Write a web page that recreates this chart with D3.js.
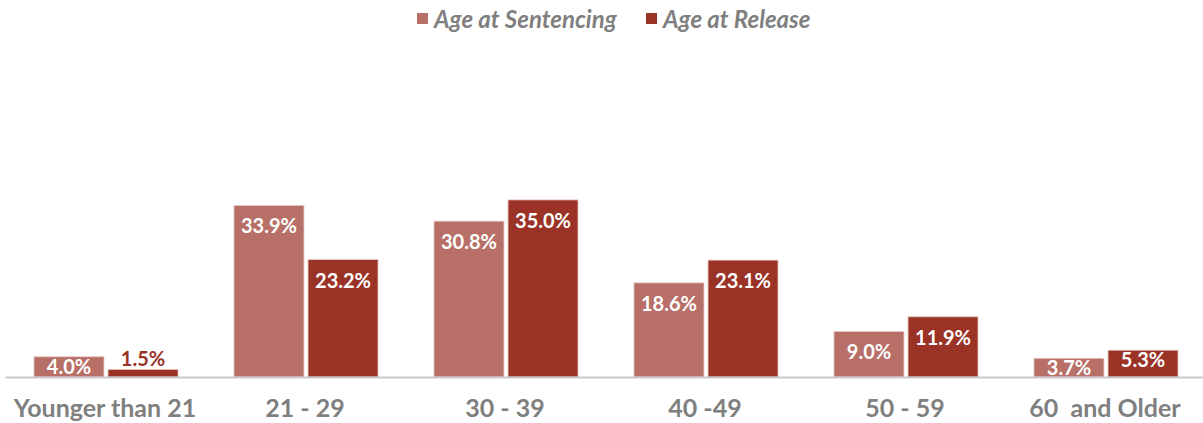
<!DOCTYPE html>
<html>
<head>
<meta charset="utf-8">
<script src="https://cdn.jsdelivr.net/npm/d3@7"></script>
<style>
  body { margin: 0; background: #fff; }
  svg text { font-family: Lato, "Open Sans", sans-serif; }
</style>
</head>
<body>
<svg id="chart" width="1203" height="423"></svg>
<script>
// data
var categories = ["Younger than 21", "21 - 29", "30 - 39", "40 -49", "50 - 59", "60  and Older"];
var seriesNames = ["Age at Sentencing", "Age at Release"];
var sentencing = [4.0, 33.9, 30.8, 18.6, 9.0, 3.7];
var release = [1.5, 23.2, 35.0, 23.1, 11.9, 5.3];
var colors = ["#b86f67", "#9a3226"];

var svg = d3.select("#chart"),
  margin = {top: 40, right: 0, bottom: 46, left: 5},
  width = 1200,
  height = 423 - margin.top - margin.bottom;

var g = svg.append("g").attr("transform", "translate(" + margin.left + "," + margin.top + ")");

var x0 = d3.scaleBand().domain(categories).range([0, width]).paddingInner(0).paddingOuter(0);
var x1 = d3.scaleBand().domain(seriesNames).range([29, 173]).paddingInner(0.055);
var y = d3.scaleLinear().domain([0, 40]).range([height, height - 202.4]);

var rows = categories.map(function(c, i) {
  return {cat: c, vals: [
    {name: seriesNames[0], v: sentencing[i], k: 0},
    {name: seriesNames[1], v: release[i], k: 1}
  ]};
});

var groups = g.selectAll(".grp").data(rows).enter().append("g")
  .attr("transform", function(d) { return "translate(" + x0(d.cat) + ",0)"; });

groups.selectAll("rect").data(function(d) { return d.vals; }).enter().append("rect")
  .attr("x", function(d) { return x1(d.name); })
  .attr("width", x1.bandwidth())
  .attr("y", function(d) { return y(d.v); })
  .attr("height", function(d) { return height - y(d.v); })
  .attr("fill", function(d) { return colors[d.k]; })
  .attr("stroke", "#e6c9c5")
  .attr("stroke-width", 0.8);

// value labels (inside end, pushed out when the bar is too short)
groups.selectAll("text.val").data(function(d) { return d.vals; }).enter().append("text")
  .attr("class", "val")
  .attr("x", function(d) { return x1(d.name) + x1.bandwidth() / 2; })
  .attr("y", function(d) {
    var h = height - y(d.v);
    if (h >= 40) return y(d.v) + 28;
    if (h >= 15) return Math.min(y(d.v) + 17, height - 1);
    return y(d.v) - 3;
  })
  .attr("text-anchor", "middle")
  .attr("font-size", 20)
  .attr("font-weight", "bold")
  .attr("fill", function(d) { return (height - y(d.v)) >= 15 ? "#fff" : colors[1]; })
  .text(function(d) { return d.v.toFixed(1) + "%"; });

// axis
var xAxis = d3.axisBottom(x0).tickSize(0).tickPadding(22);
var ax = g.append("g").attr("class", "x axis")
  .attr("transform", "translate(0," + height + ")")
  .call(xAxis);
ax.select(".domain").attr("stroke", "#c9c9c9").attr("stroke-width", 2);
ax.selectAll("text")
  .attr("font-size", 25)
  .attr("font-weight", "bold")
  .attr("fill", "#7f7f7f")
  .style("white-space", "pre")
  .attr("font-family", "Lato, sans-serif");

// legend
var legendX = [417, 646];
var legend = svg.append("g");
seriesNames.forEach(function(n, i) {
  legend.append("rect")
    .attr("x", legendX[i]).attr("y", 13).attr("width", 11).attr("height", 11)
    .attr("fill", colors[i]);
  legend.append("text")
    .attr("x", legendX[i] + 17).attr("y", 28)
    .attr("font-size", 24)
    .attr("font-weight", "bold")
    .attr("font-style", "italic")
    .attr("fill", "#7f7f7f")
    .text(n);
});
</script>
</body>
</html>
